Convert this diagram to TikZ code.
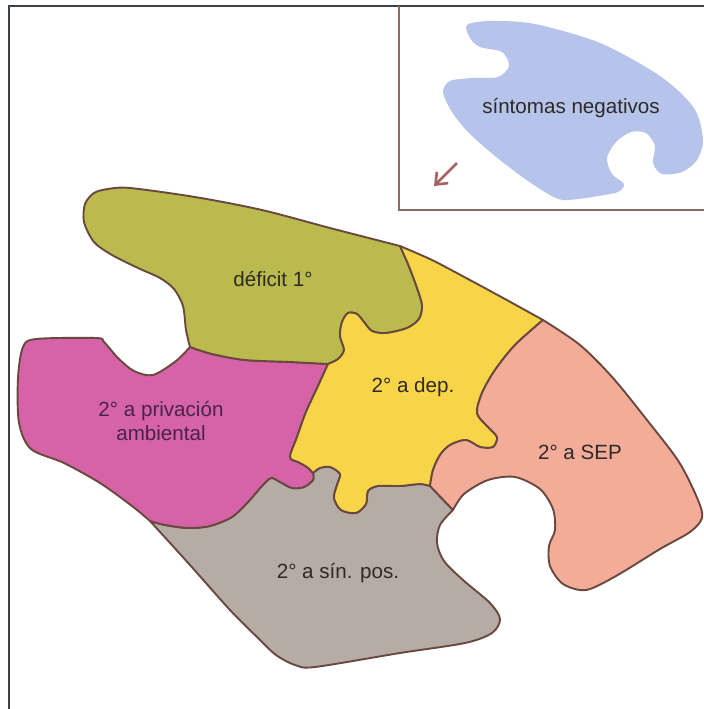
\documentclass[tikz,border=0pt]{standalone}
\usepackage{fontspec}
\setmainfont{Liberation Sans}
\usetikzlibrary{arrows.meta}
\definecolor{PieceOlive}{RGB}{186,186,78}
\definecolor{PieceYellow}{RGB}{247,212,72}
\definecolor{PiecePink}{RGB}{214,98,168}
\definecolor{PieceSalmon}{RGB}{243,172,152}
\definecolor{PieceGray}{RGB}{182,172,166}
\definecolor{PieceBlue}{RGB}{182,196,236}
\definecolor{EdgeBrown}{RGB}{105,72,62}
\definecolor{FrameGray}{RGB}{60,66,72}
\definecolor{BoxBrown}{RGB}{135,108,98}
\definecolor{ArrowRed}{RGB}{168,98,96}
\definecolor{TextDark}{RGB}{45,42,40}
\definecolor{TextPurple}{RGB}{72,36,70}
\tikzset{
  piece/.style={draw=EdgeBrown,line width=0.95pt,line join=round},
  piecetext/.style={font=\fontsize{10.3}{11.6}\selectfont,text=TextDark,inner sep=0pt,align=center}
}

\begin{document}
\begin{tikzpicture}[x=0.5pt,y=-0.5pt]
\useasboundingbox (0,0) rectangle (704,709);
% frame and inset box
\draw[FrameGray,line width=1.1pt] (9,709) -- (9,6) -- (704,6);
\draw[BoxBrown,line width=0.8pt] (399,6) -- (399,210) -- (704,210);
% inset piece
\fill[PieceBlue] plot[smooth cycle] coordinates {(467,25) (490,21) (535,24) (600,43) (660,76) (694,108) (703,140) (697,160) (682,172) (662,174) (653,163) (655,146) (646,133) (631,132) (616,142) (607,158) (612,174) (624,184) (618,192) (598,196) (578,199) (558,199) (528,181) (495,156) (468,132) (452,112) (443,92) (450,81) (472,78) (498,77) (509,66) (502,52) (480,47) (470,38)};
\coordinate (arrowtail) at (457,163);
\coordinate (arrowtip) at (434,186);
\draw[ArrowRed,line width=1.3pt,-{Straight Barb[length=5pt,width=8pt]}] (arrowtail) -- (arrowtip);
\node[piecetext] (negtext) at (571,108) {síntomas negativos};
% pieces
\filldraw[piece,fill=PieceGray]
  plot[smooth] coordinates {(150,521) (165,525) (188,528) (210,526) (232,517) (248,502) (262,486) (271,478) (280,482) (292,488) (304,487) (313,480) (313,473)}
  -- plot[smooth] coordinates {(313,473) (320,468) (330,467) (340,474) (337,485) (334,498) (341,510) (356,513) (366,504) (368,491) (378,486) (400,486) (420,484) (430,486)}
  -- (453,510)
  -- plot[smooth] coordinates {(453,510) (440,525) (437,543) (444,561) (463,580) (490,603) (500,619) (492,633) (465,643) (400,653) (315,667) (295,665) (276,655) (258,638) (230,610) (190,565) (150,521)} -- cycle;
\filldraw[piece,fill=PiecePink]
  plot[smooth] coordinates {(190,347) (176,361) (153,375) (134,371) (118,358) (104,342) (96,338) (36,339) (23,347) (18,378) (19,423) (31,449) (64,463) (100,483) (132,506) (150,521)}
  -- plot[smooth] coordinates {(150,521) (165,525) (188,528) (210,526) (232,517) (248,502) (262,486) (271,478) (280,482) (292,488) (304,487) (313,480) (313,473)}
  -- plot[smooth] coordinates {(313,473) (307,467) (298,462) (290,457) (297,437) (306,412) (318,386) (328,364)}
  -- plot[smooth] coordinates {(328,364) (290,362) (245,360) (212,354) (190,347)} -- cycle;
\filldraw[piece,fill=PieceOlive]
  plot[smooth] coordinates {(190,347) (186,330) (183,306) (174,289) (160,278) (138,268) (112,255) (94,242) (84,222) (85,204) (94,193) (108,189) (130,188) (195,197) (262,210) (330,228) (400,246)}
  -- plot[smooth] coordinates {(400,246) (408,264) (416,285) (422,305) (419,319) (407,328) (386,333) (372,331) (364,322) (357,314) (348,313) (342,322) (340,336) (344,350) (338,359) (328,364)}
  -- plot[smooth] coordinates {(328,364) (290,362) (245,360) (212,354) (190,347)} -- cycle;
\filldraw[piece,fill=PieceYellow]
  plot[smooth] coordinates {(400,246) (408,264) (416,285) (422,305) (419,319) (407,328) (386,333) (372,331) (364,322) (357,314) (348,313) (342,322) (340,336) (344,350) (338,359) (328,364)}
  -- plot[smooth] coordinates {(328,364) (318,386) (306,412) (297,437) (290,457) (298,462) (307,467) (313,473)}
  -- plot[smooth] coordinates {(313,473) (320,468) (330,467) (340,474) (337,485) (334,498) (341,510) (356,513) (366,504) (368,491) (378,486) (400,486) (420,484) (430,486)}
  -- plot[smooth] coordinates {(430,486) (433,470) (440,455) (450,445) (466,440) (480,447) (493,447) (497,437) (487,426) (477,413) (482,393) (495,370) (515,345) (543,320)}
  -- plot[smooth] coordinates {(543,320) (505,299) (468,279) (432,260) (400,246)} -- cycle;
\filldraw[piece,fill=PieceSalmon]
  plot[smooth] coordinates {(543,320) (580,345) (613,378) (647,420) (679,462) (698,500) (702,518) (690,532) (660,549) (616,576) (586,590) (563,584) (550,566) (549,546) (555,530) (553,509) (540,489) (515,477) (488,480) (464,494) (453,510)}
  -- (430,486)
  -- plot[smooth] coordinates {(430,486) (433,470) (440,455) (450,445) (466,440) (480,447) (493,447) (497,437) (487,426) (477,413) (482,393) (495,370) (515,345) (543,320)} -- cycle;
% labels
\node[piecetext] (deftext) at (273,279) {déficit 1°};
\node[piecetext,text=TextPurple] (privtext) at (161,421) {2° a privación\\ambiental};
\node[piecetext] (deptext) at (413,387) {2° a dep.};
\node[piecetext] (septext) at (580,452) {2° a SEP};
\node[piecetext] (postext) at (338,573) {2° a sín. pos.};
\end{tikzpicture}
\end{document}
